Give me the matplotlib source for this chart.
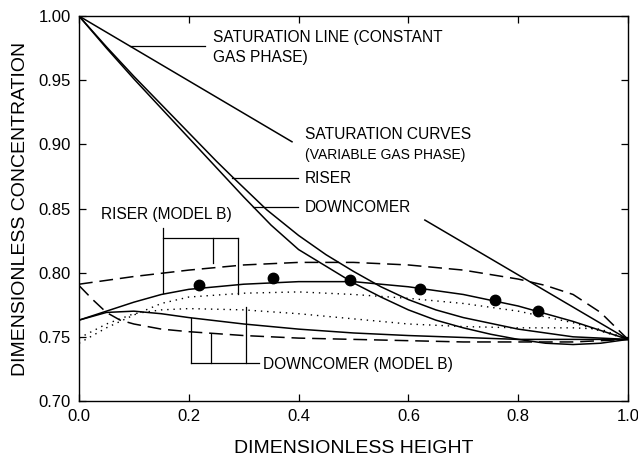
import matplotlib
matplotlib.use("Agg")
import matplotlib.pyplot as plt

plt.rcParams['font.family'] = ['Liberation Sans', 'DejaVu Sans']

# saturation line (constant gas phase), broken by its label
sat_line_x1 = [0.0, 0.388]
sat_line_y1 = [1.0, 0.902]
sat_line_x2 = [0.63, 1.0]
sat_line_y2 = [0.841, 0.748]

# saturation curves (variable gas phase)
sat_riser_x = [0.0, 0.05, 0.1, 0.15, 0.2, 0.25, 0.281, 0.342, 0.4, 0.45, 0.5, 0.55, 0.6, 0.65, 0.7, 0.8, 0.9, 1.0]
sat_riser_y = [1.0, 0.976, 0.953, 0.931, 0.909, 0.887, 0.874, 0.849, 0.829, 0.814, 0.801, 0.789, 0.779, 0.771, 0.765, 0.756, 0.750, 0.748]
sat_down_x = [0.0, 0.05, 0.1, 0.15, 0.2, 0.25, 0.3, 0.35, 0.4, 0.45, 0.5, 0.55, 0.6, 0.65, 0.7, 0.75, 0.8, 0.85, 0.9, 0.95, 1.0]
sat_down_y = [1.0, 0.975, 0.951, 0.928, 0.905, 0.882, 0.859, 0.837, 0.818, 0.805, 0.792, 0.781, 0.771, 0.763, 0.757, 0.752, 0.748, 0.745, 0.744, 0.745, 0.748]

# model B, solid
riser_x = [0.0, 0.05, 0.1, 0.15, 0.2, 0.3, 0.4, 0.5, 0.6, 0.7, 0.8, 0.9, 1.0]
riser_y = [0.763, 0.770, 0.777, 0.783, 0.787, 0.791, 0.793, 0.793, 0.789, 0.783, 0.774, 0.762, 0.748]
down_x = [0.0, 0.05, 0.1, 0.15, 0.2, 0.3, 0.4, 0.5, 0.6, 0.7, 0.8, 0.9, 1.0]
down_y = [0.763, 0.769, 0.770, 0.768, 0.765, 0.760, 0.756, 0.753, 0.751, 0.7495, 0.748, 0.748, 0.748]

# dashed
riser_dash_x = [0.0, 0.1, 0.2, 0.3, 0.4, 0.5, 0.6, 0.7, 0.8, 0.85, 0.9, 0.95, 1.0]
riser_dash_y = [0.791, 0.797, 0.802, 0.806, 0.808, 0.808, 0.806, 0.802, 0.795, 0.790, 0.783, 0.769, 0.748]
down_dash_x = [0.0, 0.025, 0.05, 0.075, 0.1, 0.15, 0.2, 0.3, 0.4, 0.5, 0.6, 0.7, 0.8, 0.9, 1.0]
down_dash_y = [0.790, 0.779, 0.769, 0.763, 0.760, 0.756, 0.754, 0.751, 0.749, 0.748, 0.747, 0.746, 0.746, 0.746, 0.748]

# dotted
dot_up_x = [0.0, 0.05, 0.1, 0.15, 0.2, 0.3, 0.4, 0.5, 0.6, 0.7, 0.8, 0.9, 1.0]
dot_up_y = [0.745, 0.757, 0.767, 0.776, 0.781, 0.784, 0.785, 0.783, 0.780, 0.776, 0.770, 0.761, 0.748]
dot_lo_x = [0.0, 0.05, 0.1, 0.15, 0.2, 0.3, 0.4, 0.5, 0.6, 0.7, 0.8, 0.9, 0.95, 1.0]
dot_lo_y = [0.749, 0.760, 0.768, 0.771, 0.772, 0.771, 0.768, 0.764, 0.760, 0.758, 0.757, 0.757, 0.756, 0.748]

# experimental points
exp_x = [0.219, 0.353, 0.493, 0.622, 0.758, 0.836]
exp_y = [0.790, 0.796, 0.794, 0.787, 0.779, 0.770]

fig = plt.figure(figsize=(6.38, 4.59), dpi=100)
ax = fig.add_axes([0.1238, 0.1264, 0.8605, 0.8387])

k = dict(color='black', lw=1.1)
ax.plot(sat_line_x1, sat_line_y1, **k)
ax.plot(sat_line_x2, sat_line_y2, **k)
ax.plot(sat_riser_x, sat_riser_y, **k)
ax.plot(sat_down_x, sat_down_y, **k)
ax.plot(riser_x, riser_y, **k)
ax.plot(down_x, down_y, **k)
ax.plot(riser_dash_x, riser_dash_y, color='black', lw=1.1, dashes=(9, 4.5))
ax.plot(down_dash_x, down_dash_y, color='black', lw=1.1, dashes=(9, 4.5))
ax.plot(dot_up_x, dot_up_y, color='black', lw=1.0, dashes=(1, 3.5))
ax.plot(dot_lo_x, dot_lo_y, color='black', lw=1.0, dashes=(1, 3.5))
ax.plot(exp_x, exp_y, 'o', color='black', ms=7.5)

# leader lines
lk = dict(color='black', lw=0.9)
ax.plot([0.093, 0.230], [0.9766, 0.9766], **lk)
ax.plot([0.279, 0.399], [0.8737, 0.8737], **lk)
ax.plot([0.317, 0.399], [0.8511, 0.8511], **lk)
# riser (model B) bracket
ax.plot([0.153, 0.153], [0.8348, 0.7841], **lk)
ax.plot([0.153, 0.290], [0.8270, 0.8270], **lk)
ax.plot([0.244, 0.244], [0.8270, 0.8075], **lk)
ax.plot([0.290, 0.290], [0.8270, 0.7833], **lk)
# downcomer (model B) bracket
ax.plot([0.204, 0.204], [0.7646, 0.7295], **lk)
ax.plot([0.240, 0.240], [0.7521, 0.7295], **lk)
ax.plot([0.304, 0.304], [0.7732, 0.7295], **lk)
ax.plot([0.204, 0.328], [0.7295, 0.7295], **lk)

fs = 11.2
ax.text(0.244, 0.9836, 'SATURATION LINE (CONSTANT', fontsize=fs, va='center')
ax.text(0.244, 0.968, 'GAS PHASE)', fontsize=fs, va='center')
ax.text(0.412, 0.908, 'SATURATION CURVES', fontsize=fs, va='center')
ax.text(0.412, 0.892, '(VARIABLE GAS PHASE)', fontsize=10, va='center')
ax.text(0.412, 0.8737, 'RISER', fontsize=fs, va='center')
ax.text(0.412, 0.851, 'DOWNCOMER', fontsize=fs, va='center')
ax.text(0.040, 0.8457, 'RISER (MODEL B)', fontsize=fs, va='center')
ax.text(0.335, 0.7288, 'DOWNCOMER (MODEL B)', fontsize=fs, va='center')

ax.set_xlim(0, 1)
ax.set_ylim(0.70, 1.00)
ax.set_xticks([0.0, 0.2, 0.4, 0.6, 0.8, 1.0])
ax.set_yticks([0.70, 0.75, 0.80, 0.85, 0.90, 0.95, 1.00])
ax.set_xticklabels(['0.0', '0.2', '0.4', '0.6', '0.8', '1.0'])
ax.set_yticklabels(['0.70', '0.75', '0.80', '0.85', '0.90', '0.95', '1.00'])
ax.tick_params(direction='in', length=5, width=0.9, top=True, right=True,
               labelsize=12, pad=6)
ax.set_xlabel('DIMENSIONLESS HEIGHT', fontsize=14, labelpad=11)
ax.set_ylabel('DIMENSIONLESS CONCENTRATION', fontsize=14, labelpad=7)
for s in ax.spines.values():
    s.set_linewidth(1.0)

fig.savefig('out.png', dpi=100)
